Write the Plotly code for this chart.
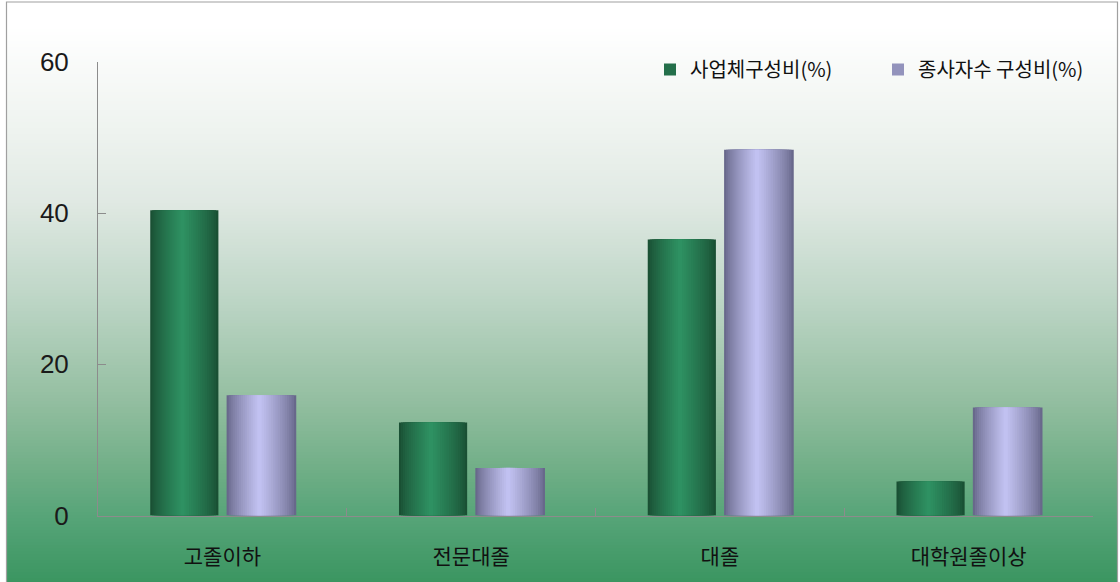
import plotly.graph_objects as go

# data
categories = ["고졸이하", "전문대졸", "대졸", "대학원졸이상"]
series_names = ["사업체구성비(%)", "종사자수 구성비(%)"]
firm_share = [40.4, 12.3, 36.5, 4.5]
worker_share = [15.9, 6.3, 48.4, 14.3]
y_ticks = [0, 20, 40, 60]

W, H = 1120, 582


def hex_rgb(h):
    h = h.lstrip("#")
    return tuple(int(h[i:i + 2], 16) for i in (0, 2, 4))


def mix(c1, c2, t):
    a, b = hex_rgb(c1), hex_rgb(c2)
    return "rgb(%d,%d,%d)" % tuple(round(a[i] + (b[i] - a[i]) * t) for i in range(3))


def bg_color(py):
    # vertical background gradient, keyed on pixel row
    stops = [(0, "#ffffff"), (25, "#ffffff"), (130, "#eef3ef"), (200, "#e0e9e3"),
             (300, "#bcd5c5"), (400, "#93bea0"), (470, "#6fae86"),
             (516, "#56a478"), (582, "#3a9560")]
    for (y0, c0), (y1, c1) in zip(stops, stops[1:]):
        if py <= y1:
            return mix(c0, c1, (py - y0) / (y1 - y0) if y1 > y0 else 0)
    return stops[-1][1]


fig = go.Figure()

# cylinder-like shading: nested bars, darker outside, lighter toward the highlight
N_LAYERS = 16


def add_shaded(values, name, left, width, edge, peak, legend_layer):
    hl = left + width * 0.47
    for k in range(N_LAYERS):
        t = k / N_LAYERS
        lo = hl - (hl - left) * (1 - t)
        hi = hl + (left + width - hl) * (1 - t)
        fig.add_trace(
            go.Bar(
                x=categories,
                y=values,
                name=name,
                offset=lo,
                width=hi - lo,
                marker=dict(color=mix(edge, peak, t ** 0.8), line=dict(width=0)),
                showlegend=(k == legend_layer),
                hoverinfo="x+y+name",
            )
        )


add_shaded(firm_share, series_names[0], -0.29, 0.274, "#1a5034", "#2f9464", 6)
add_shaded(worker_share, series_names[1], 0.017, 0.28, "#68688b", "#c6c6f6", 6)

# background gradient + frame
shapes = []
x0, x1 = 6.5 / W, 1117.5 / W
rows = list(range(2, H + 1, 3))
for py in rows:
    shapes.append(dict(type="rect", xref="paper", yref="paper", x0=x0, x1=x1,
                       y0=-0.01, y1=1 - py / H, fillcolor=bg_color(py),
                       line=dict(width=0), layer="below"))
shapes.append(dict(type="rect", xref="paper", yref="paper", x0=x0, x1=x1,
                   y0=-0.01, y1=1 - 2 / H, line=dict(color="#a0a0a0", width=1.2),
                   fillcolor="rgba(0,0,0,0)", layer="below"))

fig.update_layout(
    width=W,
    height=H,
    margin=dict(l=0, r=0, t=0, b=0, autoexpand=False),
    paper_bgcolor="white",
    plot_bgcolor="rgba(0,0,0,0)",
    barmode="overlay",
    shapes=shapes,
    showlegend=True,
    legend=dict(
        orientation="h",
        x=(670 - 20) / W,
        y=1 - 50 / H,
        xanchor="left",
        yanchor="top",
        bgcolor="rgba(0,0,0,0)",
        font=dict(family="Noto Sans CJK KR", size=20, color="#111111"),
        entrywidth=183,
        entrywidthmode="pixels",
        itemclick=False,
    ),
    xaxis=dict(
        domain=[98 / W, 1093 / W],
        range=[-0.5, 3.5],
        showline=True,
        linecolor="#8c8c8c",
        linewidth=1,
        ticks="inside",
        tickson="boundaries",
        ticklen=8,
        tickcolor="#8c8c8c",
        showgrid=False,
        zeroline=False,
        ticklabelstandoff=22,
        tickfont=dict(family="Noto Sans CJK KR", size=21, color="#111111"),
    ),
    yaxis=dict(
        domain=[1 - 515.5 / H, 1 - 62 / H],
        range=[0, 60],
        tickvals=y_ticks,
        showline=True,
        linecolor="#8c8c8c",
        linewidth=1,
        ticks="inside",
        ticklen=8,
        tickcolor="#8c8c8c",
        showgrid=False,
        zeroline=False,
        ticklabelstandoff=23,
        tickfont=dict(family="Liberation Sans", size=26, color="#1a1a1a"),
    ),
)

# drop the page's default body margin so the figure sits at the window's corner
fig.write_html(
    "out.html",
    config={"displayModeBar": False},
    post_script="document.body.style.margin='0';",
)
